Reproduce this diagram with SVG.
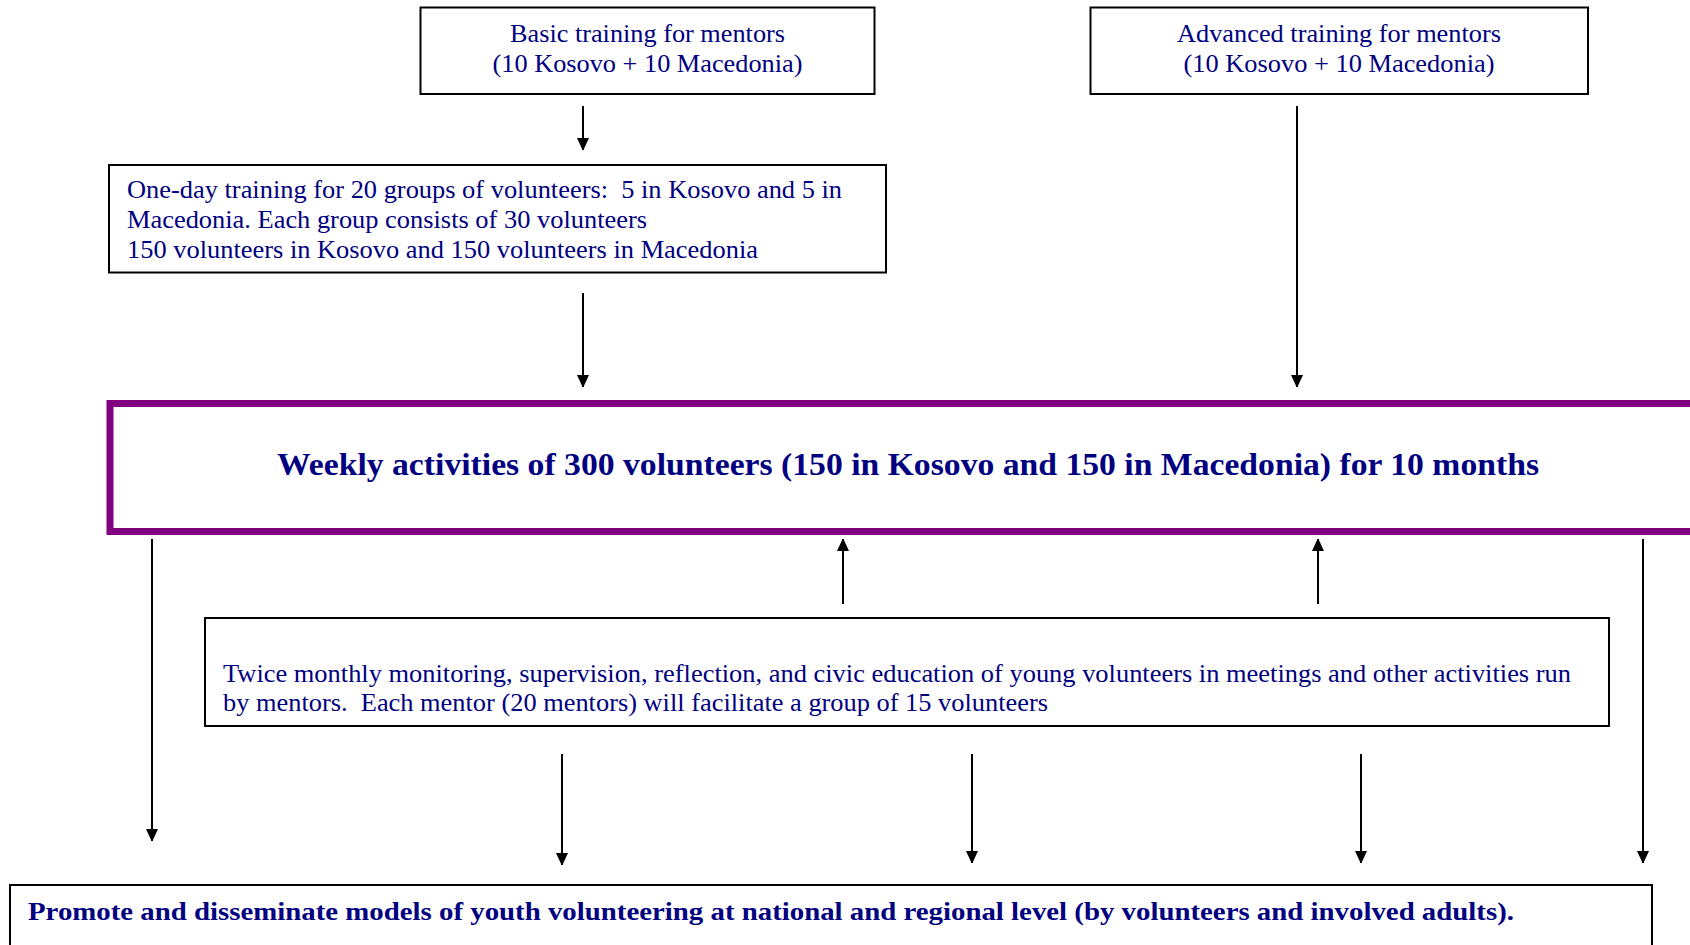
<svg xmlns="http://www.w3.org/2000/svg" width="1690" height="945" viewBox="0 0 1690 945">
<style>
.box{fill:#fff;stroke:#000;stroke-width:2}
.t{font-family:"Liberation Serif","Times New Roman",serif;font-size:26px;fill:#000080}
.b{font-family:"Liberation Serif","Times New Roman",serif;font-weight:bold;fill:#000080}
.c{stroke:#000;stroke-width:2;fill:none}
</style>
<defs>
<marker id="ah" markerWidth="12" markerHeight="14" refX="12" refY="7" orient="auto" markerUnits="userSpaceOnUse">
<path d="M0,1 L13,7 L0,13 Z" fill="#000"/>
</marker>
</defs>
<rect width="1690" height="945" fill="#fff"/>
<g id="basic">
<rect class="box" x="420.5" y="7.5" width="454" height="86.5"/>
<text class="t" x="647.5" y="42" text-anchor="middle" textLength="275" lengthAdjust="spacingAndGlyphs">Basic training for mentors</text>
<text class="t" x="647.5" y="72" text-anchor="middle" textLength="310" lengthAdjust="spacingAndGlyphs">(10 Kosovo + 10 Macedonia)</text>
</g>
<g id="advanced">
<rect class="box" x="1090.5" y="7.5" width="497.5" height="86.5"/>
<text class="t" x="1339" y="42" text-anchor="middle" textLength="324" lengthAdjust="spacingAndGlyphs">Advanced training for mentors</text>
<text class="t" x="1339" y="72" text-anchor="middle" textLength="311" lengthAdjust="spacingAndGlyphs">(10 Kosovo + 10 Macedonia)</text>
</g>
<g id="oneday">
<rect class="box" x="109" y="165" width="777" height="107.5"/>
<text class="t" x="127" y="198" textLength="715" lengthAdjust="spacingAndGlyphs" xml:space="preserve">One-day training for 20 groups of volunteers:  5 in Kosovo and 5 in</text>
<text class="t" x="127" y="228" textLength="520" lengthAdjust="spacingAndGlyphs">Macedonia. Each group consists of 30 volunteers</text>
<text class="t" x="127" y="258" textLength="631" lengthAdjust="spacingAndGlyphs">150 volunteers in Kosovo and 150 volunteers in Macedonia</text>
</g>
<g id="weekly">
<rect x="110" y="403.5" width="1600" height="128" fill="#fff" stroke="#800080" stroke-width="7"/>
<text class="b" x="277" y="475" font-size="32" textLength="1262" lengthAdjust="spacingAndGlyphs">Weekly activities of 300 volunteers (150 in Kosovo and 150 in Macedonia) for 10 months</text>
</g>
<g id="monitoring">
<rect class="box" x="205" y="618" width="1404" height="108"/>
<text class="t" x="223" y="682" textLength="1348" lengthAdjust="spacingAndGlyphs">Twice monthly monitoring, supervision, reflection, and civic education of young volunteers in meetings and other activities run</text>
<text class="t" x="223" y="711" textLength="825" lengthAdjust="spacingAndGlyphs" xml:space="preserve">by mentors.  Each mentor (20 mentors) will facilitate a group of 15 volunteers</text>
</g>
<g id="promote">
<rect class="box" x="10" y="885" width="1642" height="80"/>
<text class="b" x="28" y="920" font-size="26" textLength="1486" lengthAdjust="spacingAndGlyphs">Promote and disseminate models of youth volunteering at national and regional level (by volunteers and involved adults).</text>
</g>
<g id="connectors">
<line class="c" x1="583" y1="106" x2="583" y2="150" marker-end="url(#ah)"/>
<line class="c" x1="583" y1="293" x2="583" y2="387" marker-end="url(#ah)"/>
<line class="c" x1="1297" y1="106" x2="1297" y2="387" marker-end="url(#ah)"/>
<line class="c" x1="843" y1="604" x2="843" y2="539" marker-end="url(#ah)"/>
<line class="c" x1="1318" y1="604" x2="1318" y2="539" marker-end="url(#ah)"/>
<line class="c" x1="152" y1="539" x2="152" y2="841" marker-end="url(#ah)"/>
<line class="c" x1="1643" y1="539" x2="1643" y2="863" marker-end="url(#ah)"/>
<line class="c" x1="562" y1="754" x2="562" y2="865" marker-end="url(#ah)"/>
<line class="c" x1="972" y1="754" x2="972" y2="863" marker-end="url(#ah)"/>
<line class="c" x1="1361" y1="754" x2="1361" y2="863" marker-end="url(#ah)"/>
</g>
</svg>
